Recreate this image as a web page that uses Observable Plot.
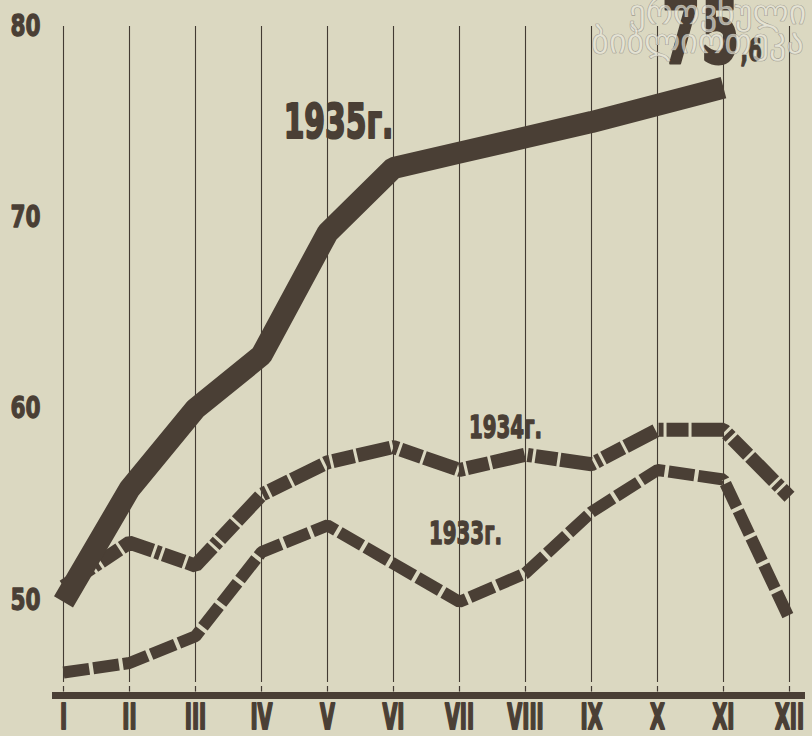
<!DOCTYPE html>
<html>
<head>
<meta charset="utf-8">
<script src="https://cdn.jsdelivr.net/npm/d3@7"></script>
<script src="https://cdn.jsdelivr.net/npm/@observablehq/plot@0.6"></script>
<style>
  html, body { margin: 0; padding: 0; background: #dbd8c1; }
  #chart { width: 812px; height: 736px; overflow: hidden; }
</style>
</head>
<body>
<div id="chart"></div>
<script>
const months = ["I", "II", "III", "IV", "V", "VI", "VII", "VIII", "IX", "X", "XI", "XII"];
const yTicks = [50, 60, 70, 80];
const y1933 = [46.2, 46.7, 48.1, 52.5, 53.9, 51.9, 49.9, 51.4, 54.6, 56.8, 56.3, 49.0];
const y1934 = [50.7, 53.0, 51.8, 55.5, 57.2, 58.0, 56.8, 57.6, 57.1, 58.9, 58.9, 55.4];
const months1935 = months.slice(0, 11);
const y1935 = [49.9, 55.8, 60.0, 62.8, 69.2, 72.6, 73.4, 74.2, 75.0, 75.9, 76.8];
const seriesLabels = ["1935г.", "1934г.", "1933г."];
const endValueBig = "75";
const endValueSmall = ",6";
const stampLines = ["ეროვნული", "ბიბლიოთეკა"];

const d1933 = months.map((m, i) => ({month: m, value: y1933[i]}));
const d1934 = months.map((m, i) => ({month: m, value: y1934[i]}));
const d1935 = months1935.map((m, i) => ({month: m, value: y1935[i]}));

const ink = "#4a3f35";
const gridInk = "#433b33";
const font = "'DejaVu Sans', sans-serif";

const chart = Plot.plot({
  width: 812,
  height: 736,
  marginLeft: 52,
  marginRight: 7,
  marginTop: 0,
  marginBottom: 41,
  style: {background: "#dbd8c1", color: ink, fontFamily: font, fontWeight: "bold", overflow: "hidden"},
  x: {type: "point", domain: months, range: [62, 789], padding: 0, axis: null},
  y: {domain: [45, 80], range: [695, 26], axis: null},
  marks: [
    // grid
    Plot.ruleX(months, {x: d => d, y1: 45.68, y2: 80, stroke: gridInk, strokeWidth: 1.1}),
    Plot.ruleX(months, {x: d => d, y1: 45.18, y2: 45.47, stroke: gridInk, strokeWidth: 1.2}),
    Plot.ruleY(yTicks, {y: d => d, x1: "I", x2: "XII", stroke: gridInk, strokeWidth: 1.1}),
    Plot.ruleY([45], {stroke: ink, strokeWidth: 7}),
    // axes
    Plot.axisX(months, {anchor: "bottom", label: null, tickSize: 0, tickPadding: 9, fontSize: 35, fontWeight: "bold", fontFamily: font, fill: ink}),
    Plot.axisY(yTicks, {anchor: "left", label: null, tickSize: 0, tickPadding: 12, fontSize: 30, fontWeight: "bold", fontFamily: font, fill: ink}),
    // series
    Plot.line(d1933, {x: "month", y: "value", stroke: ink, strokeWidth: 12, strokeDasharray: "26,4", strokeLinejoin: "miter", strokeLinecap: "butt"}),
    Plot.line(d1934, {x: "month", y: "value", stroke: ink, strokeWidth: 14, strokeDasharray: "34,3,5,3,22,3", strokeLinejoin: "miter", strokeLinecap: "butt"}),
    Plot.line(d1935, {x: "month", y: "value", stroke: ink, strokeWidth: 22, strokeLinejoin: "miter", strokeLinecap: "butt"}),
    // labels
    Plot.text([seriesLabels[0]], {x: () => "V", y: () => 74.96, dx: 11, text: d => d, fontSize: 48, fontWeight: "bold", fontFamily: font, fill: ink}),
    Plot.text([seriesLabels[1]], {x: () => "VIII", y: () => 59.02, dx: -20, text: d => d, fontSize: 32, fontWeight: "bold", fontFamily: font, fill: ink}),
    Plot.text([seriesLabels[2]], {x: () => "VII", y: () => 53.45, dx: 6, text: d => d, fontSize: 32, fontWeight: "bold", fontFamily: font, fill: ink}),
    Plot.text([endValueBig], {x: () => "XI", y: () => 79.6, dx: 16, text: d => d, textAnchor: "end", fontSize: 90, fontWeight: "bold", fontFamily: font, fill: ink}),
    Plot.text([endValueSmall], {x: () => "XI", y: () => 78.75, dx: 17, text: d => d, textAnchor: "start", fontSize: 32, fontWeight: "bold", fontFamily: font, fill: ink}),
    // library stamp
    Plot.text([stampLines[0]], {x: () => "XI", y: () => 80.69, dx: -6, text: d => d, fontSize: 34, fontWeight: "normal", fontFamily: font, fill: "#ecebe0", fillOpacity: 0.65, stroke: "#8f8b7f", strokeWidth: 0.7}),
    Plot.text([stampLines[1]], {x: () => "XI", y: () => 79.17, dx: -26, text: d => d, fontSize: 34, fontWeight: "normal", fontFamily: font, fill: "#ecebe0", fillOpacity: 0.65, stroke: "#8f8b7f", strokeWidth: 0.7})
  ]
});
document.getElementById("chart").appendChild(chart);

// The reference uses a tall, heavy, condensed display face: squeeze the bold labels
// horizontally and thicken their strokes.
const squeeze = new Map();
months.forEach(m => squeeze.set(m, [0.55, 2.2]));
yTicks.forEach(t => squeeze.set(String(t), [0.72, 1.3]));
seriesLabels.forEach((s, i) => squeeze.set(s, [0.62, i === 0 ? 2.2 : 1.4]));
squeeze.set(endValueBig, [0.62, 3]);
squeeze.set(endValueSmall, [0.62, 1.4]);
d3.select(chart).selectAll("text").each(function() {
  const s = squeeze.get(this.textContent);
  if (!s) return;
  const w = this.getComputedTextLength();
  this.setAttribute("textLength", (w * s[0]).toFixed(1));
  this.setAttribute("lengthAdjust", "spacingAndGlyphs");
  this.setAttribute("stroke", ink);
  this.setAttribute("stroke-width", s[1]);
  this.setAttribute("stroke-linejoin", "round");
});
</script>
</body>
</html>
